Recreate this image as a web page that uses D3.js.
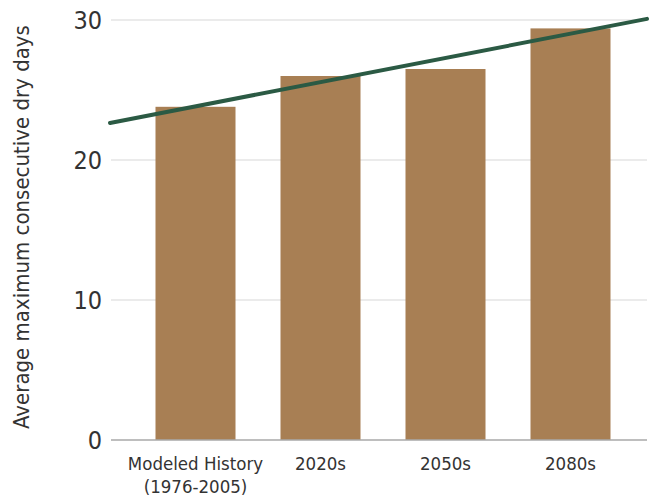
<!DOCTYPE html>
<html>
<head>
<meta charset="utf-8">
<script src="https://cdn.jsdelivr.net/npm/d3@7"></script>
<style>
  html, body { margin: 0; padding: 0; background: #ffffff; }
  svg { display: block; }
  text { font-family: "DejaVu Sans Condensed", "DejaVu Sans", sans-serif; fill: #333333; }
</style>
</head>
<body>
<svg id="chart" width="654" height="500"></svg>
<script>
// Average maximum consecutive dry days, history vs. future periods
const categories = ["Modeled History|(1976-2005)", "2020s", "2050s", "2080s"];
const dryDays = [23.8, 26.0, 26.5, 29.4];
const yTicks = [0, 10, 20, 30];
const yTitle = "Average maximum consecutive dry days";

const W = 654, H = 500;
const plot = { left: 111, right: 647, top: 20, bottom: 440 };

const svg = d3.select("#chart");

const x = d3.scaleBand()
  .domain(categories)
  .range([118, 648])
  .paddingInner(0.36)
  .paddingOuter(0.3);

const y = d3.scaleLinear()
  .domain([0, 30])
  .range([plot.bottom, plot.top]);

// gridlines
svg.append("g")
  .selectAll("line")
  .data(yTicks.filter(d => d !== 0))
  .join("line")
  .attr("x1", plot.left)
  .attr("x2", plot.right)
  .attr("y1", d => y(d))
  .attr("y2", d => y(d))
  .attr("stroke", "#e4e4e4")
  .attr("stroke-width", 1.5);

// y tick labels
const yAxis = d3.axisLeft(y).tickValues(yTicks).tickSize(0).tickPadding(9);
const gy = svg.append("g")
  .attr("transform", `translate(${plot.left},0)`)
  .call(yAxis);
gy.select(".domain").remove();
gy.selectAll("text")
  .style("font-family", '"DejaVu Sans Condensed", "DejaVu Sans", sans-serif')
  .style("font-size", "25px")
  .attr("fill", "#333333");

// bars
svg.append("g")
  .selectAll("rect")
  .data(categories.map((c, i) => ({ c, v: dryDays[i] })))
  .join("rect")
  .attr("x", d => x(d.c))
  .attr("width", x.bandwidth())
  .attr("y", d => y(d.v))
  .attr("height", d => y(0) - y(d.v))
  .attr("fill", "#a87f54");

// baseline
svg.append("line")
  .attr("x1", plot.left)
  .attr("x2", plot.right)
  .attr("y1", y(0))
  .attr("y2", y(0))
  .attr("stroke", "#a8a8a8")
  .attr("stroke-width", 1.5);

// x category labels
const gx = svg.append("g");
categories.forEach(c => {
  const lines = c.split("|");
  const t = gx.append("text")
    .attr("text-anchor", "middle")
    .style("font-size", "18.5px");
  lines.forEach((ln, k) => {
    t.append("tspan")
      .attr("x", x(c) + x.bandwidth() / 2)
      .attr("y", 470 + k * 23)
      .text(ln);
  });
});

// least-squares trend across the periods
const n = dryDays.length;
const idx = d3.range(n);
const mx = d3.mean(idx), my = d3.mean(dryDays);
const slope = d3.sum(idx, i => (i - mx) * (dryDays[i] - my)) / d3.sum(idx, i => (i - mx) ** 2);
const intercept = my - slope * mx;
const step = x.step();
const c0 = x(categories[0]) + x.bandwidth() / 2;
const toIndex = px => (px - c0) / step;
const trendX = [110, plot.right];
const trend = trendX.map(px => [px, y(intercept + slope * toIndex(px))]);

svg.append("path")
  .attr("d", d3.line()(trend))
  .attr("fill", "none")
  .attr("stroke", "#2b5a44")
  .attr("stroke-width", 4)
  .attr("stroke-linecap", "round");

// y axis title
svg.append("text")
  .attr("transform", "translate(29,227) rotate(-90)")
  .attr("text-anchor", "middle")
  .style("font-size", "22px")
  .text(yTitle);
</script>
</body>
</html>
